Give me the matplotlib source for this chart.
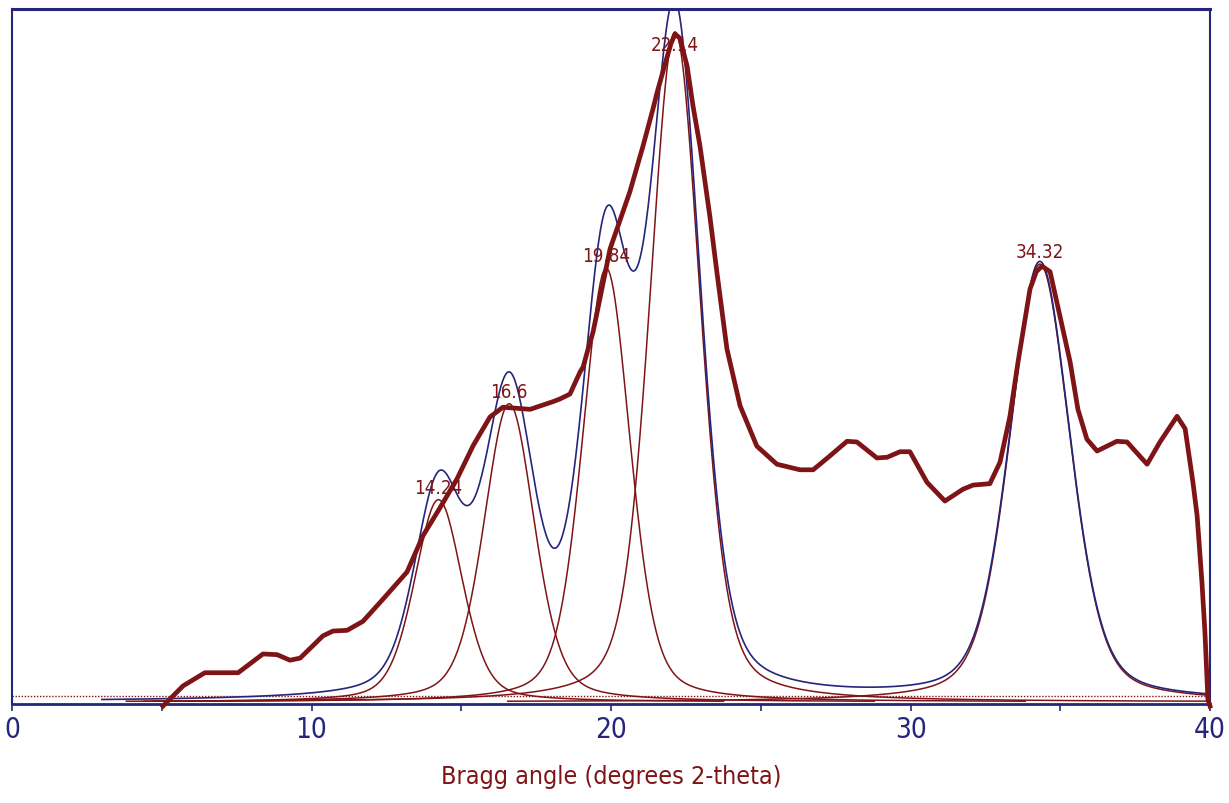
import numpy as np
import matplotlib
matplotlib.use("Agg")
import matplotlib.pyplot as plt
from matplotlib import font_manager
from matplotlib.ticker import MultipleLocator

obs_x = [5.04, 5.71, 6.44, 7.55, 8.38, 8.85, 9.28, 9.62, 10.38, 10.72, 11.19, 11.72,
         12.39, 13.19, 13.72, 14.3, 14.86, 15.4, 15.96, 16.39, 17.3, 18.06, 18.3, 18.63, 18.97,
         19.07, 19.3, 19.4, 19.97, 20.63, 21.07, 21.4, 21.54, 21.8, 22.0, 22.14, 22.3,
         22.54, 22.74, 22.97, 23.3, 23.54, 23.87, 24.31, 24.87, 25.54, 26.31, 26.75,
         27.31, 27.88, 28.21, 28.88, 29.22, 29.65, 29.98, 30.55, 31.15, 31.75, 32.09,
         32.65, 32.99, 33.32, 33.59, 33.99, 34.2, 34.39, 34.66, 34.99, 35.33, 35.59, 35.89,
         36.23, 36.89, 37.23, 37.9, 38.33, 38.9, 39.17, 39.43, 39.57, 39.73, 39.83,
         39.93, 40.0]
obs_y = [-0.3, 2.6, 4.5, 4.5, 7.2, 7.1, 6.3, 6.6, 9.8, 10.5, 10.6, 11.9,
         15.1, 19.0, 24.2, 28.3, 32.4, 37.2, 41.3, 42.7, 42.4, 43.5, 43.9, 44.6, 47.8,
         48.5, 52.1, 53.5, 65.5, 73.7, 80.3, 85.6, 88.0, 92.0, 95.0, 96.4, 95.8,
         91.8, 86.0, 80.3, 70.2, 62.0, 51.1, 42.9, 37.1, 34.5, 33.7, 33.7,
         35.7, 37.8, 37.7, 35.4, 35.5, 36.3, 36.3, 31.9, 29.2, 30.9, 31.5,
         31.7, 34.8, 41.4, 49.2, 59.7, 62.2, 63.0, 62.2, 55.8, 49.2, 42.4, 38.1,
         36.4, 37.8, 37.7, 34.5, 37.7, 41.4, 39.6, 31.9, 27.1, 17.6, 10.4,
         0.7, -0.3]

# fitted peaks (thin lines)
peak_pos = [14.24, 16.6, 19.84, 22.14, 34.32]
peak_height = [29.1, 42.9, 62.4, 96.4, 63.0]
peak_fwhm = [1.9, 2.0, 1.9, 2.0, 2.4]
peak_labels = ["14.24", "16.6", "19.84", "22.14", "34.32"]
peak_eta = 0.35          # lorentz fraction of the pseudo-voigt
comp_offset = 0.3
baseline_level = 1.15

red = "#7f1416"
navy = "#25257c"

# narrow font if there is one, otherwise condensed DejaVu
installed = {f.name for f in font_manager.fontManager.ttflist}
if "Liberation Sans Narrow" in installed:
    txt = dict(family="Liberation Sans Narrow")
else:
    txt = dict(family="DejaVu Sans", stretch="condensed")


def pseudo_voigt(x, c, h, w, eta):
    lor = 1.0 / (1.0 + (2.0 * (x - c) / w) ** 2)
    gau = np.exp(-4.0 * np.log(2.0) * ((x - c) / w) ** 2)
    return h * (eta * lor + (1 - eta) * gau)


fig = plt.figure(figsize=(12.29, 8.04), dpi=100)
ax = fig.add_axes([12 / 1229, 99 / 804, 1198 / 1229, 695 / 804])

xx = np.linspace(3.0, 40.0, 1500)
total = np.zeros_like(xx)
for c, h, w in zip(peak_pos, peak_height, peak_fwhm):
    prof = pseudo_voigt(xx, c, h, w, peak_eta)
    total += prof
    yy = np.where(prof > 0.1, prof + comp_offset, np.nan)
    ax.plot(xx, yy, color=red, lw=1.1, zorder=3)

ax.plot(xx, total + comp_offset, color=navy, lw=1.2, zorder=4)
ax.plot(obs_x, obs_y, color=red, lw=3.4, zorder=5, solid_joinstyle="round", clip_on=False)
ax.axhline(baseline_level, color=red, lw=1.0, ls=(0, (1, 1.2)), zorder=2)

for c, h, lab in zip(peak_pos, peak_height, peak_labels):
    ty = min(h + 0.7, 93.5)
    ax.text(c, ty, lab, color=red, ha="center", va="bottom", fontsize=13.5,
            zorder=6, **txt)

ax.set_xlim(0, 40)
ax.set_ylim(0, 100)
ax.set_yticks([])
ax.xaxis.set_major_locator(MultipleLocator(10))
ax.xaxis.set_minor_locator(MultipleLocator(5))
ax.tick_params(axis="x", which="both", direction="out", length=5, width=1.2,
               color=navy, labelcolor=navy, labelsize=19, pad=3)
for lab in ax.get_xticklabels():
    lab.set_fontproperties(font_manager.FontProperties(size=20, **txt))

for side, lw in [("top", 2.2), ("bottom", 2.0), ("left", 1.5), ("right", 1.5)]:
    ax.spines[side].set_color(navy)
    ax.spines[side].set_linewidth(lw)

ax.set_xlabel("Bragg angle (degrees 2-theta)", color=red, fontsize=18, va="center", **txt)
ax.xaxis.set_label_coords(0.5, -72 / 695)

fig.savefig("out.png", dpi=100)
